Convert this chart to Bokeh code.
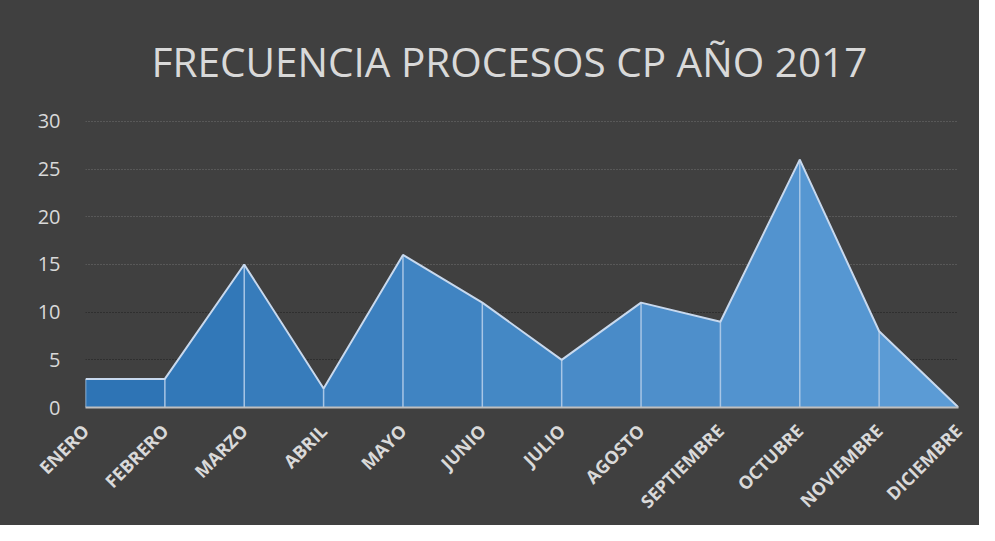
import math
from bokeh.plotting import figure
from bokeh.models import FixedTicker, Grid, Range1d
from bokeh.embed import file_html
from bokeh.resources import INLINE

# ---- data ----
months = ["ENERO", "FEBRERO", "MARZO", "ABRIL", "MAYO", "JUNIO", "JULIO",
          "AGOSTO", "SEPTIEMBRE", "OCTUBRE", "NOVIEMBRE", "DICIEMBRE"]
values = [3, 3, 15, 2, 16, 11, 5, 11, 9, 26, 8, 0]
y_ticks = [0, 5, 10, 15, 20, 25, 30]
title_text = "FRECUENCIA PROCESOS CP AÑO 2017"

BG = "#404040"
TXT = "#D9D9D9"

p = figure(width=979, height=525, output_backend="svg", toolbar_location=None,
           x_range=Range1d(0, len(months) - 1), y_range=Range1d(0, 30.1),
           min_border_left=85, min_border_right=21, min_border_top=120,
           min_border_bottom=118)
# one continuous dark background behind the whole canvas (no seams at frame edges)
p.styles = {"background-color": BG}
p.background_fill_color = None
p.border_fill_color = None
p.outline_line_color = None

p.title.text = title_text
p.title.text_font = "Open Sans"
p.title.text_font_style = "normal"
p.title.text_font_size = "40.5px"
p.title.text_color = TXT
p.title.align = "left"
p.title.offset = 66
p.title.standoff = 63

# grids
p.xgrid.visible = False
p.ygrid.ticker = FixedTicker(ticks=[15, 20, 25, 30])
p.ygrid.grid_line_color = "#717171"
p.ygrid.grid_line_dash = "1 2"
p.ygrid.grid_line_width = 1
dark_grid = Grid(dimension=1, ticker=FixedTicker(ticks=[5, 10]),
                 grid_line_color="#1E1E1E", grid_line_dash="1 2", grid_line_width=1)
p.add_layout(dark_grid)

# area segments with left-to-right gradient
xs_idx = list(range(len(months)))
c0 = (0x2E, 0x74, 0xB5)
c1 = (0x5B, 0x9B, 0xD5)
n = len(months) - 1
seg_xs, seg_ys, seg_cols = [], [], []
for i in range(n):
    t = i / (n - 1)
    col = "#%02X%02X%02X" % tuple(round(a + (b - a) * t) for a, b in zip(c0, c1))
    seg_xs.append([xs_idx[i], xs_idx[i + 1], xs_idx[i + 1], xs_idx[i]])
    seg_ys.append([0, 0, values[i + 1], values[i]])
    seg_cols.append(col)
p.patches(seg_xs, seg_ys, fill_color=seg_cols, line_color=None)

# vertical dividers and outline
p.segment(x0=xs_idx, y0=[0] * len(values), x1=xs_idx, y1=values,
          line_color="#A8C6E6", line_width=1.5)
p.line(xs_idx, values, line_color="#C8D9EE", line_width=2)

# axes
p.xaxis.ticker = FixedTicker(ticks=xs_idx)
p.xaxis.major_label_overrides = {i: m for i, m in zip(xs_idx, months)}
p.xaxis.major_label_orientation = math.pi / 4
p.xaxis.major_label_text_font = "Open Sans"
p.xaxis.major_label_text_font_style = "bold"
p.xaxis.major_label_text_font_size = "18px"
p.xaxis.major_label_text_color = TXT
p.xaxis.major_tick_line_color = None
p.xaxis.minor_tick_line_color = None
p.xaxis.axis_line_color = "#BFBFBF"
p.xaxis.axis_line_width = 2
p.xaxis.major_label_standoff = 14

p.yaxis.ticker = FixedTicker(ticks=y_ticks)
p.yaxis.major_label_text_font = "Open Sans"
p.yaxis.major_label_text_font_size = "20px"
p.yaxis.major_label_text_color = TXT
p.yaxis.major_tick_line_color = None
p.yaxis.minor_tick_line_color = None
p.yaxis.axis_line_color = None
p.yaxis.major_label_standoff = 19

open("out.html", "w").write(file_html(p, INLINE))
